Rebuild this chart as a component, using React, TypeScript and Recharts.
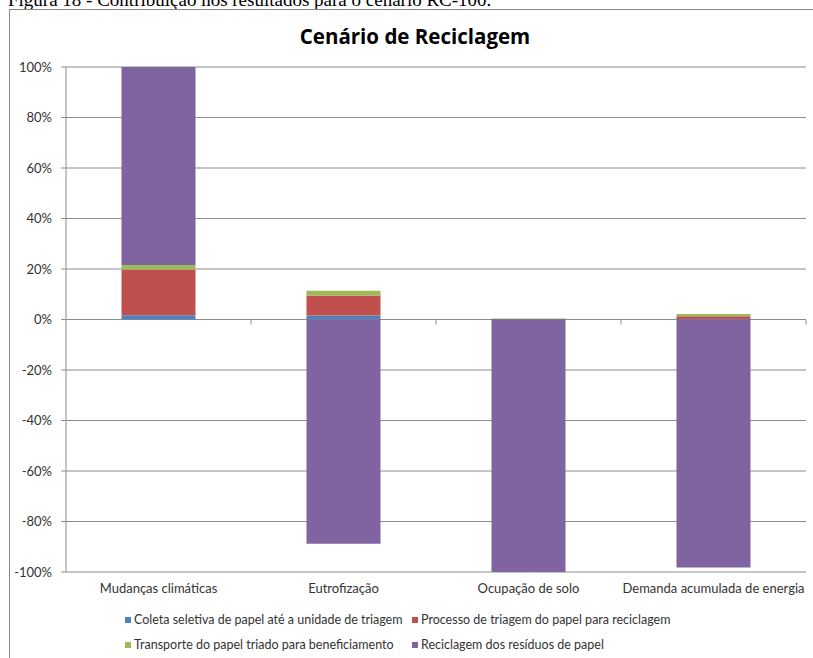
import { BarChart, Bar, XAxis, YAxis, CartesianGrid, ReferenceLine } from "recharts";

const categories = ["Mudanças climáticas", "Eutrofização", "Ocupação de solo", "Demanda acumulada de energia"];
const coleta = [1.7, 1.6, 0.05, 0.2];
const processo = [18.1, 7.9, 0.15, 1.1];
const transporte = [1.8, 1.9, 0.2, 0.9];
const reciclagem = [78.4, -88.8, -100, -98.2];

const seriesKeys = ["coleta", "processo", "transporte", "reciclagem"];
const seriesNames = [
  "Coleta seletiva de papel até a unidade de triagem",
  "Processo de triagem do papel para reciclagem",
  "Transporte do papel triado para beneficiamento",
  "Reciclagem dos resíduos de papel",
];
const seriesColors = ["#4F81BD", "#C0504D", "#9BBB59", "#8064A2"];
const yTicks = [-100, -80, -60, -40, -20, 0, 20, 40, 60, 80, 100];

const data = categories.map((name, i) => ({
  name,
  coleta: coleta[i],
  processo: processo[i],
  transporte: transporte[i],
  reciclagem: reciclagem[i],
}));

const FONT = "Lato, 'Open Sans', sans-serif";
const GRID = "#8c8c8c";

// tick marks under the zero line, at the category boundaries
function ZeroTicks(props: any) {
  const { x1, x2, y1 } = props;
  if (x1 == null || x2 == null) return null;
  const step = (x2 - x1) / categories.length;
  return (
    <g>
      {categories.map((c, i) => {
        const x = x1 + step * (i + 1);
        return <line key={c} x1={x} x2={x} y1={y1} y2={y1 + 5} stroke={GRID} strokeWidth={1} />;
      })}
    </g>
  );
}

export default function App() {
  return (
    <div style={{ position: "fixed", left: 0, top: 0, width: 813, height: 658, overflow: "hidden", background: "#fff" }}>
      <svg width={813} height={20} style={{ position: "absolute", left: 0, top: 0 }}>
        <text x={8} y={6} fontFamily="'Liberation Serif', serif" fontSize={19} fill="#000">
          Figura 18 - Contribuição nos resultados para o cenário RC-100.
        </text>
      </svg>
      <div
        style={{
          position: "absolute",
          left: 9,
          top: 9,
          width: 900,
          height: 700,
          border: "1px solid #878787",
          boxSizing: "border-box",
        }}
      />
      <div
        style={{
          position: "absolute",
          left: 0,
          width: 830,
          top: 22,
          textAlign: "center",
          fontFamily: "'Open Sans', sans-serif",
          fontWeight: 700,
          fontSize: 20.5,
          color: "#000",
        }}
      >
        Cenário de Reciclagem
      </div>
      <div style={{ position: "absolute", left: 0, top: 0 }}>
        <BarChart
          width={813}
          height={658}
          data={data}
          stackOffset="sign"
          barCategoryGap="30%"
          margin={{ top: 67, right: 7, bottom: 56, left: 0 }}
        >
          <CartesianGrid vertical={false} stroke={GRID} strokeWidth={1} />
          <XAxis
            dataKey="name"
            axisLine={false}
            tickLine={false}
            tickSize={0}
            tickMargin={12}
            height={30}
            interval={0}
            tick={{ fontFamily: FONT, fontSize: 13, fill: "#333" }}
          />
          <YAxis
            width={66}
            domain={[-100, 100]}
            ticks={yTicks}
            interval={0}
            tickFormatter={(v: number) => `${v}%`}
            axisLine={{ stroke: GRID }}
            tickLine={{ stroke: GRID }}
            tickSize={5}
            tickMargin={9}
            tick={{ fontFamily: FONT, fontSize: 13, fill: "#333" }}
          />
          {seriesKeys.map((k, i) => (
            <Bar key={k} dataKey={k} name={seriesNames[i]} stackId="a" fill={seriesColors[i]} isAnimationActive={false} />
          ))}
          <ReferenceLine y={0} stroke="none" shape={ZeroTicks} />
        </BarChart>
      </div>
      <div
        style={{
          position: "absolute",
          left: 125,
          top: 611,
          display: "grid",
          gridTemplateColumns: "287px auto",
          rowGap: 7,
          fontFamily: FONT,
          fontSize: 12.5,
          color: "#333",
          lineHeight: "18px",
        }}
      >
        {seriesNames.map((n, i) => (
          <div key={n} style={{ display: "flex", alignItems: "center", whiteSpace: "nowrap" }}>
            <span style={{ width: 6, height: 6, background: seriesColors[i], marginRight: 3, display: "inline-block" }} />
            {n}
          </div>
        ))}
      </div>
    </div>
  );
}
